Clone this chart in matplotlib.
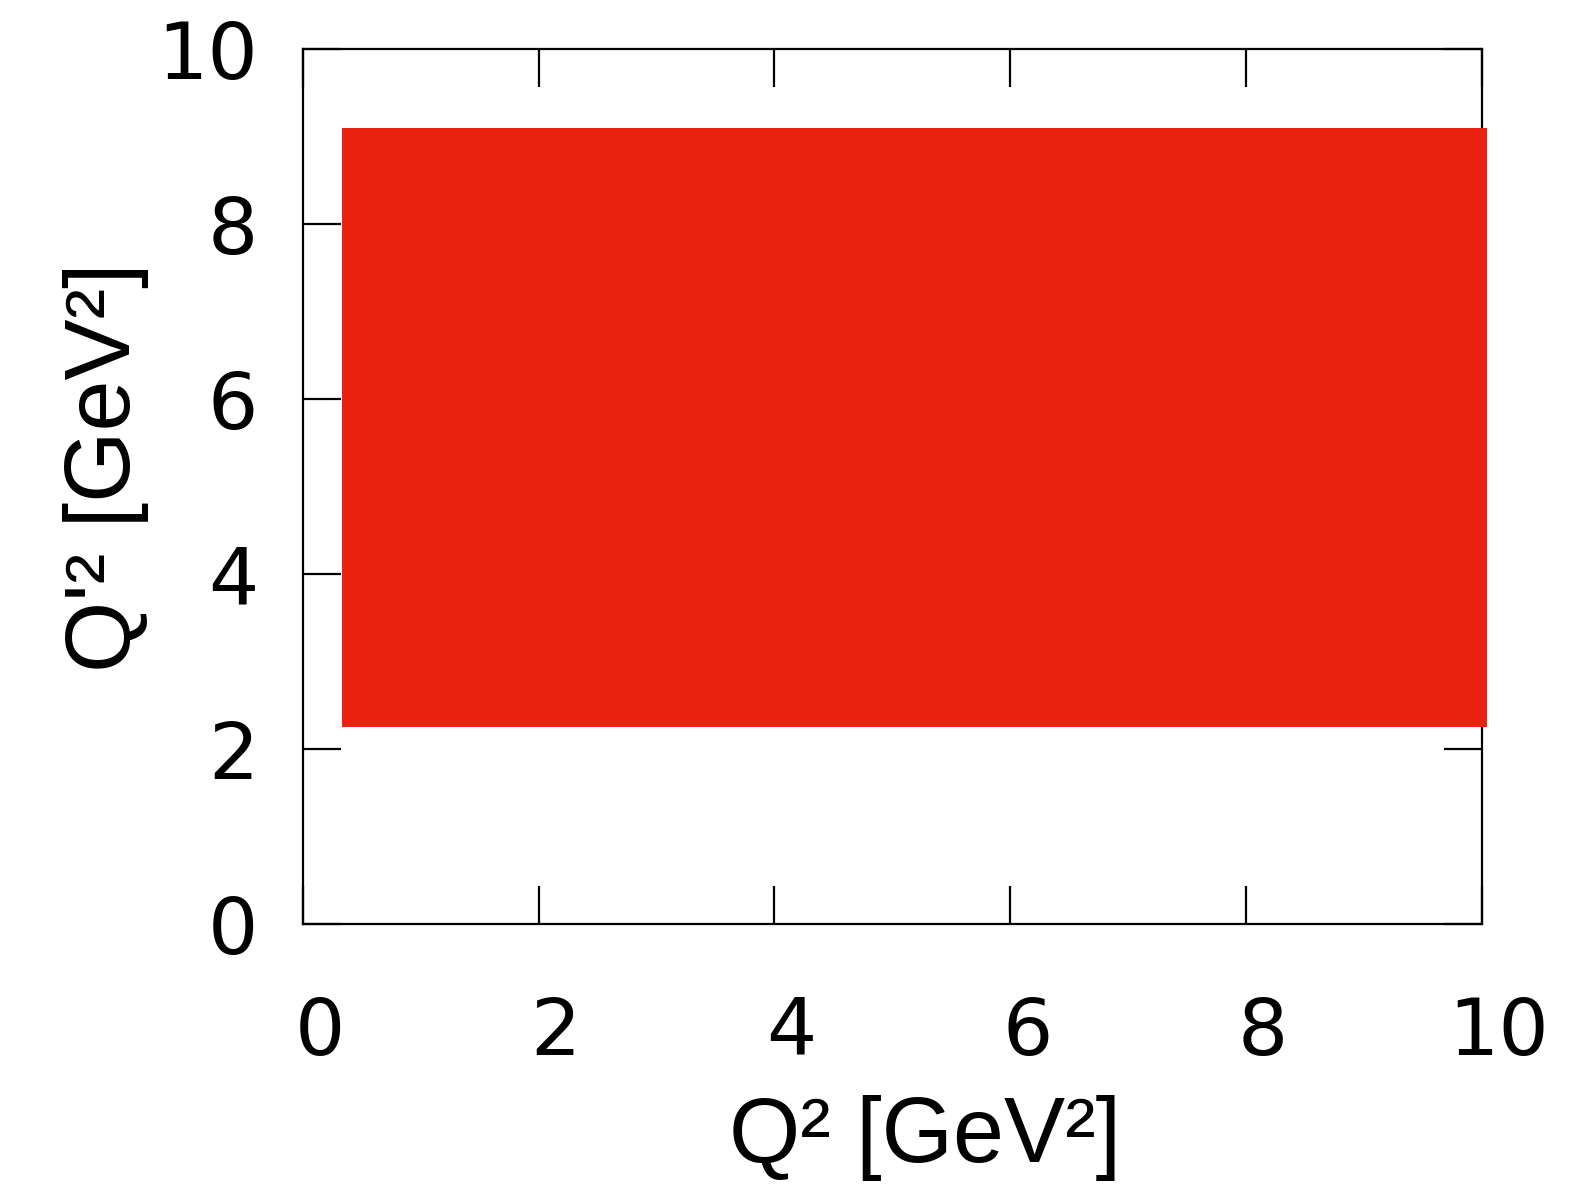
import matplotlib
matplotlib.use("Agg")
import matplotlib.pyplot as plt
import matplotlib.transforms as mtransforms
from matplotlib.patches import Rectangle

# Allowed region in the (Q^2, Q'^2) plane
q2_range = [0.33, 10.04]
qp2_range = [2.25, 9.1]
ticks = [0, 2, 4, 6, 8, 10]
tick_labels = ["0", "2", "4", "6", "8", "10"]

fig = plt.figure(figsize=(15.89, 11.95), dpi=100)
ax = fig.add_axes([302.7 / 1589, 1 - 924 / 1195, (1482 - 302.7) / 1589, (924 - 49) / 1195])

ax.set_xlim(0, 10)
ax.set_ylim(0, 10)

rect = Rectangle((q2_range[0], qp2_range[0]),
                 q2_range[1] - q2_range[0], qp2_range[1] - qp2_range[0],
                 facecolor="#ec2210", edgecolor="none", zorder=5, clip_on=False)
ax.add_patch(rect)

ax.set_xticks(ticks)
ax.set_yticks(ticks)
ax.set_xticklabels(tick_labels)
ax.set_yticklabels(tick_labels)
ax.tick_params(direction="in", length=27.5, width=1.6, top=True, right=True,
               labelsize=57, colors="black")
ax.tick_params(axis="x", pad=51)
ax.tick_params(axis="y", pad=32)
for lab in ax.get_xticklabels():
    lab.set_fontfamily("DejaVu Sans")
    lab.set_transform(lab.get_transform() + mtransforms.ScaledTranslation(17 / 100, 0, fig.dpi_scale_trans))
for lab in ax.get_yticklabels():
    lab.set_fontfamily("DejaVu Sans")

for s in ax.spines.values():
    s.set_linewidth(1.6)

fig.text(925 / 1589, 1 - 1138 / 1195, "Q² [GeV²]", ha="center", va="center",
         fontsize=66, family="Liberation Sans")
fig.text(106 / 1589, 1 - 467 / 1195, "Q'² [GeV²]", ha="center", va="center",
         rotation=90, fontsize=66, family="Liberation Sans")

fig.savefig("out.png", dpi=100)
